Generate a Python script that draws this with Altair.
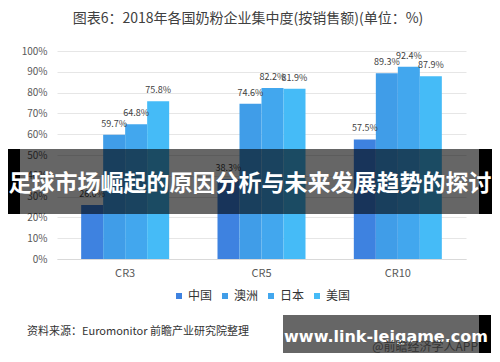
import altair as alt
import pandas as pd

categories = ["CR3", "CR5", "CR10"]
countries = ["中国", "澳洲", "日本", "美国"]
china = [26.0, 38.3, 57.5]
australia = [59.7, 74.6, 89.3]
japan = [64.8, 82.2, 92.4]
usa = [75.8, 81.9, 87.9]
colors = ["#3E82E0", "#409DE8", "#42A7EE", "#45BBF7"]
y_ticks = list(range(0, 101, 10))

title_text = "图表6：2018年各国奶粉企业集中度(按销售额)(单位：%)"
source_text = "资料来源：Euromonitor 前瞻产业研究院整理"
banner_text = "足球市场崛起的原因分析与未来发展趋势的探讨"
site_text = "www.link-leigame.com"
app_text = "@前瞻经济学人APP"

rows = []
for name, vals in zip(countries, [china, australia, japan, usa]):
    for c, v in zip(categories, vals):
        rows.append({"cat": c, "country": name, "value": v, "label": f"{v:.1f}%"})
df = pd.DataFrame(rows)
one = pd.DataFrame({"a": [0]})

FONT = "Noto Sans CJK SC"

x = alt.X("cat:N", sort=categories,
          scale=alt.Scale(paddingInner=0.3545, paddingOuter=0.17725),
          axis=alt.Axis(title=None, labelFontSize=11, labelColor="#595959", labelPadding=8,
                        ticks=False, domainColor="#d9d9d9", labelAngle=0, grid=False,
                        labelFont=FONT))
xo = alt.XOffset("country:N", sort=countries, scale=alt.Scale(paddingInner=0, paddingOuter=0))
y = alt.Y("value:Q", scale=alt.Scale(domain=[0, 100]),
          axis=alt.Axis(title=None, values=y_ticks, labelExpr="datum.value + '%'",
                        ticks=False, domain=False, gridColor="#e6e6e6", labelPadding=10,
                        labelFontSize=10, labelColor="#595959", labelFont=FONT))

bars = alt.Chart(df).mark_bar().encode(
    x=x, xOffset=xo, y=y,
    color=alt.Color("country:N", sort=countries,
                    scale=alt.Scale(domain=countries, range=colors),
                    legend=alt.Legend(title=None, orient="none", direction="horizontal",
                                      legendX=116, legendY=239, symbolType="square",
                                      symbolSize=36, labelFontSize=12, labelFont=FONT,
                                      labelColor="#333333", columnPadding=6, labelOffset=3,
                                      symbolStrokeWidth=0)),
)
labels = alt.Chart(df).mark_text(baseline="middle", dy=-11, fontSize=9, color="#404040",
                                 font=FONT).encode(x=x, xOffset=xo, y=y, text="label:N")


def rect(x1, x2, y1, y2, color, opacity=1.0):
    return alt.Chart(one).mark_rect(color=color, opacity=opacity).encode(
        x=alt.value(x1), x2=alt.value(x2), y=alt.value(y1), y2=alt.value(y2))


def txt(t, xv, yv, **kw):
    return alt.Chart(one).mark_text(text=t, **kw).encode(x=alt.value(xv), y=alt.value(yv))


title = txt(title_text, 191, -32, fontSize=14, color="#404040", font=FONT, align="center",
            baseline="middle")
source = txt(source_text, -30, 281, fontSize=11, color="#333333", font=FONT, align="left",
             baseline="middle")

banner = [
    rect(-49, -37, 98, 163, "#000000"),
    rect(-37, 422, 98, 163, "#000000", 0.6),
    rect(422, 435, 98, 163, "#000000"),
    txt(banner_text, 193, 133, fontSize=23, fontWeight="bold", color="#ffffff", font=FONT,
        align="center", baseline="middle"),
]
site = [
    rect(226, 422, 264, 302, "#666666"),
    rect(422, 434, 264, 302, "#000000"),
    txt(site_text, 329, 286, fontSize=16, fontWeight="bold", color="#ffffff",
        font="DejaVu Sans", align="center", baseline="middle"),
    txt(app_text, 421, 296, fontSize=12, color="#333333", font=FONT, align="right",
        baseline="middle"),
]

chart = alt.layer(bars, labels, title, source, *banner, *site).properties(
    width=409, height=208,
    autosize=alt.AutoSizeParams(type="none"),
    padding={"left": 49, "top": 43, "right": 26, "bottom": 95},
    background="#ffffff",
).configure_view(stroke=None)

chart.save("out.html", embed_options={"renderer": "svg", "actions": False})
